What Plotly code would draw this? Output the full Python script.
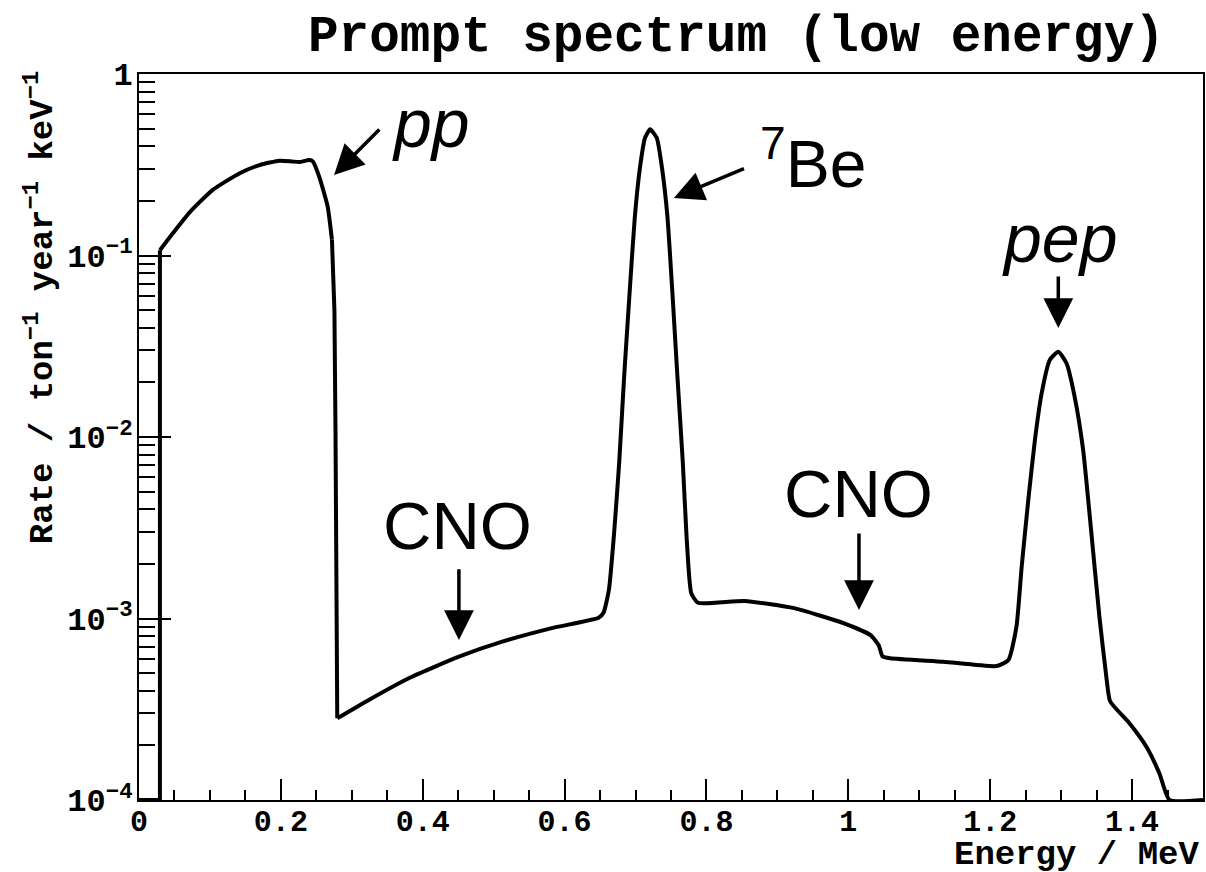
import plotly.graph_objects as go

# Spectrum (energy in MeV, rate per ton/year/keV)
energy = [0.0, 0.0295, 0.0295, 0.048, 0.072, 0.104, 0.142, 0.170, 0.198, 0.215, 0.226, 0.240, 0.245,
          0.254, 0.266, 0.272, 0.274, 0.2755, 0.277, 0.278, 0.2795,
          0.324, 0.381, 0.451, 0.512, 0.582, 0.648, 0.655,
          0.6625, 0.670, 0.677, 0.684, 0.6916, 0.699, 0.706, 0.7133, 0.7205,
          0.730, 0.7375, 0.745, 0.752, 0.759, 0.7666, 0.772, 0.7785, 0.788,
          0.8535, 0.9237, 0.994, 1.0314, 1.043, 1.048, 1.059, 1.134, 1.209,
          1.2257, 1.237, 1.2444, 1.2537, 1.263, 1.2725, 1.284, 1.296, 1.3076,
          1.319, 1.331, 1.3427, 1.354, 1.3637, 1.369, 1.3966, 1.420, 1.4386,
          1.4527, 1.5]
rate = [1e-4, 1e-4, 0.107, 0.133, 0.174, 0.230, 0.284, 0.315, 0.333, 0.330, 0.327, 0.336, 0.33,
        0.272, 0.186, 0.122, 0.08, 0.05, 0.011, 1.6e-3, 2.82e-4,
        3.56e-4, 4.70e-4, 6.16e-4, 7.45e-4, 8.85e-4, 1.01e-3, 1.08e-3,
        1.44e-3, 3.03e-3, 7.27e-3, 0.0217, 0.062, 0.163, 0.30, 0.444, 0.496,
        0.444, 0.30, 0.163, 0.062, 0.0217, 7.3e-3, 2.8e-3, 1.38e-3, 1.22e-3,
        1.25e-3, 1.14e-3, 9.4e-4, 8.1e-4, 7.1e-4, 6.2e-4, 6.04e-4, 5.78e-4, 5.47e-4,
        5.9e-4, 9.0e-4, 1.93e-3, 4.5e-3, 9.6e-3, 0.0174, 0.0266, 0.0295, 0.0255,
        0.0167, 8.5e-3, 2.94e-3, 1.02e-3, 4.78e-4, 3.5e-4, 2.64e-4, 1.97e-4, 1.40e-4,
        1.0e-4, 1.0e-4]

x_tick_vals = [0, 0.2, 0.4, 0.6, 0.8, 1.0, 1.2, 1.4]
x_tick_text = ["0", "0.2", "0.4", "0.6", "0.8", "1", "1.2", "1.4"]
y_tick_vals = [1e-4, 1e-3, 1e-2, 1e-1, 1]
y_tick_text = ["10<sup>−4</sup>", "10<sup>−3</sup>", "10<sup>−2</sup>", "10<sup>−1</sup>", "1"]
y_minor_vals = [m * 10 ** e for e in range(-4, 0) for m in range(2, 10)]

MONO = "Liberation Mono"
SANS = "Liberation Sans"

fig = go.Figure()
# sharp corners drawn straight, smooth parts drawn as splines
segments = [(0, 2, "linear"), (2, 15, "spline"), (15, 20, "linear"), (20, len(energy) - 1, "spline")]
for a, b, shape in segments:
    line = dict(color="black", width=4, shape=shape)
    if shape == "spline":
        line["smoothing"] = 0.5
    fig.add_trace(go.Scatter(x=energy[a:b + 1], y=rate[a:b + 1], mode="lines",
                             line=line, showlegend=False, hoverinfo="x+y"))

fig.update_layout(
    width=1206, height=872,
    margin=dict(l=139, r=1, t=74, b=72),
    paper_bgcolor="white", plot_bgcolor="white",
    xaxis=dict(range=[0, 1.5], showgrid=False, zeroline=False,
               showline=True, linecolor="black", linewidth=2, mirror=True,
               ticks="inside", ticklen=21, tickwidth=1.5, tickcolor="black",
               tickvals=x_tick_vals, ticktext=x_tick_text,
               ticklabelstandoff=-7,
               tickfont=dict(family=MONO, size=30, color="black", weight="bold"),
               minor=dict(ticks="inside", ticklen=10, tickwidth=1.5, tickcolor="black",
                          tick0=0, dtick=0.05, showgrid=False)),
    yaxis=dict(type="log", range=[-4, 0], showgrid=False, zeroline=False,
               showline=True, linecolor="black", linewidth=2, mirror=True,
               ticks="inside", ticklen=32, tickwidth=1.5, tickcolor="black",
               tickvals=y_tick_vals, ticktext=y_tick_text,
               tickfont=dict(family=MONO, size=32, color="black", weight="bold"),
               ticklabelstandoff=-2,
               minor=dict(ticks="inside", ticklen=16, tickwidth=1.5, tickcolor="black",
                          tickvals=y_minor_vals, showgrid=False)),
)

annotations = [
    dict(text="Prompt spectrum (low energy)", xref="paper", yref="paper",
         x=0.562, y=1.0496, xanchor="center", yanchor="middle", showarrow=False,
         font=dict(family=MONO, size=51, color="black", weight="bold")),
    dict(text="Energy / MeV", xref="paper", yref="paper", x=0.998, y=-0.0758,
         xanchor="right", yanchor="middle", showarrow=False,
         font=dict(family=MONO, size=34, color="black", weight="bold")),
    dict(text="Rate / ton<sup>−1</sup> year<sup>−1</sup> keV<sup>−1</sup>", xref="paper", yref="paper",
         x=-0.093, y=1.006, xanchor="center", yanchor="top", textangle=-90, showarrow=False,
         font=dict(family=MONO, size=34, color="black", weight="bold")),
    # labels
    dict(text="<i>pp</i>", x=0.412, y=-0.27, showarrow=False,
         font=dict(family=SANS, size=68, color="black")),
    dict(text="<sup>7</sup>Be", x=0.95, y=-0.47, showarrow=False,
         font=dict(family=SANS, size=66, color="black")),
    dict(text="CNO", x=0.449, y=-2.49, showarrow=False,
         font=dict(family=SANS, size=67, color="black")),
    dict(text="CNO", x=1.015, y=-2.31, showarrow=False,
         font=dict(family=SANS, size=67, color="black")),
    dict(text="<i>pep</i>", x=1.297, y=-0.905, showarrow=False,
         font=dict(family=SANS, size=68, color="black")),
]
arrow_style = dict(text="", showarrow=True, axref="x", ayref="y", arrowhead=2,
                   arrowsize=1.7, arrowwidth=3.5, arrowcolor="black", standoff=0, startstandoff=0)
arrows = [
    ((0.275, -0.556), (0.341, -0.298)),
    ((0.754, -0.683), (0.855, -0.518)),
    ((0.451, -3.118), (0.451, -2.72)),
    ((1.015, -2.953), (1.015, -2.523)),
    ((1.296, -1.40), (1.296, -1.107)),
]
for (hx, hy), (tx, ty) in arrows:
    annotations.append(dict(x=hx, y=hy, ax=tx, ay=ty, **arrow_style))

fig.update_layout(annotations=annotations)
fig.write_html("out.html")
